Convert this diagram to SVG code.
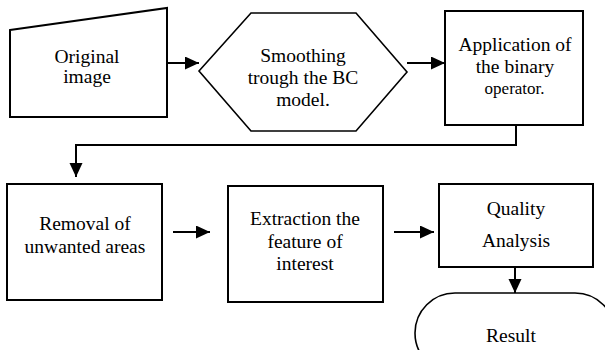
<svg xmlns="http://www.w3.org/2000/svg" width="605" height="350" viewBox="0 0 605 350">
<style>
.box{fill:#fff;stroke:#000;stroke-width:2}
.hex{fill:#fff;stroke:#000;stroke-width:1.6}
.conn{fill:none;stroke:#000;stroke-width:2}
</style>
<defs>
<marker id="a" markerUnits="userSpaceOnUse" markerWidth="14" markerHeight="14" refX="14" refY="6.5" orient="auto">
<path d="M0,0 L14,6.5 L0,13 z" fill="#000"/>
</marker>
</defs>
<g id="original">
<polygon class="box" points="10,30 167,8 167,117 10,117"/>
<text font-family="Liberation Serif" font-size="19.5" x="54.5" y="63">Original</text>
<text font-family="Liberation Serif" font-size="19.5" x="63.2" y="83">image</text>
</g>
<g id="smoothing">
<polygon class="hex" points="199,71 251,13 356,13 407,72 356,131 251,131"/>
<text font-family="Liberation Serif" font-size="19.5" x="260.2" y="62">Smoothing</text>
<text font-family="Liberation Serif" font-size="19.5" x="247.7" y="84">trough the BC</text>
<text font-family="Liberation Serif" font-size="19.5" x="276.2" y="106">model.</text>
</g>
<g id="binary">
<rect class="box" x="445" y="11" width="138" height="114"/>
<text font-family="Liberation Serif" font-size="19.5" x="458.4" y="51">Application of</text>
<text font-family="Liberation Serif" font-size="19.5" x="475.7" y="73">the binary</text>
<text font-family="Liberation Serif" font-size="17" x="484.6" y="94">operator.</text>
</g>
<g id="removal">
<rect class="box" x="7" y="184" width="155" height="116"/>
<text font-family="Liberation Serif" font-size="19.5" x="39.2" y="230">Removal of</text>
<text font-family="Liberation Serif" font-size="19.5" x="24.6" y="253">unwanted areas</text>
</g>
<g id="extraction">
<rect class="box" x="228" y="186" width="155" height="116"/>
<text font-family="Liberation Serif" font-size="19.5" x="250" y="225">Extraction the</text>
<text font-family="Liberation Serif" font-size="19.5" x="267.4" y="248">feature of</text>
<text font-family="Liberation Serif" font-size="19.5" x="276.3" y="270">interest</text>
</g>
<g id="quality">
<rect class="box" x="439" y="184" width="154" height="83"/>
<text font-family="Liberation Serif" font-size="19.5" x="486.7" y="215">Quality</text>
<text font-family="Liberation Serif" font-size="19.5" x="481.9" y="247">Analysis</text>
</g>
<g id="result">
<rect class="hex" x="415" y="293" width="200" height="80" rx="40" ry="40"/>
<text font-family="Liberation Serif" font-size="19.5" x="486.1" y="342">Result</text>
</g>
<g id="connectors">
<line class="conn" x1="167" y1="63" x2="199" y2="63" marker-end="url(#a)"/>
<line class="conn" x1="407" y1="63" x2="445" y2="63" marker-end="url(#a)"/>
<polyline class="conn" points="516,125 516,145 76,145 76,177" marker-end="url(#a)"/>
<line class="conn" x1="173" y1="232" x2="210" y2="232" marker-end="url(#a)"/>
<line class="conn" x1="394" y1="232" x2="434" y2="232" marker-end="url(#a)"/>
<line class="conn" x1="515" y1="267" x2="515" y2="293" marker-end="url(#a)"/>
</g>
</svg>
